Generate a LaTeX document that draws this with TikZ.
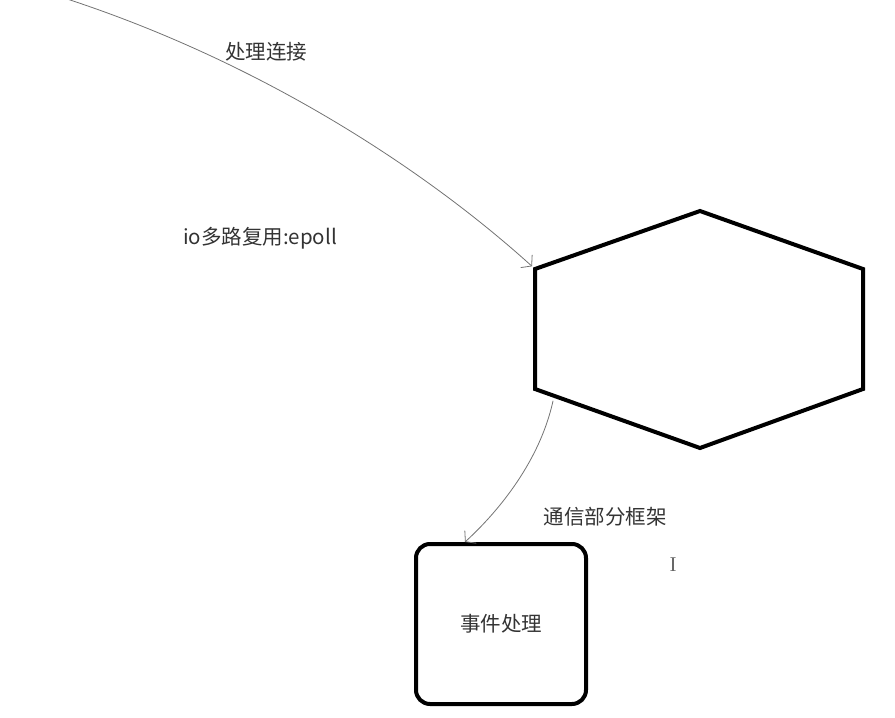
\documentclass[tikz,border=0pt]{standalone}
\usepackage{fontspec}
\setmainfont{Noto Sans CJK SC}
\newfontfamily\curfont{Liberation Serif}
\usepackage{tikz}
\usetikzlibrary{positioning}
\usetikzlibrary{calc}
\usetikzlibrary{arrows.meta}

\tikzset{
	lbl/.style={text=black!80, font=\fontsize{20.5}{24}\selectfont, inner sep=0pt},
	conn/.style={line width=0.8pt, draw=black!55, -{Straight Barb[length=7pt,width=17pt]}},
	thick line/.style={line width=4pt, line join=miter},
}

\begin{document}
\begin{tikzpicture}[line cap=round,line join=round,x=1.0pt,y=-1.0pt]
	\useasboundingbox (0,0) rectangle (895,718);
	\coordinate (hexNW) at (535,269);
	\coordinate (hexN) at (700,211);
	\coordinate (hexNE) at (863,269);
	\coordinate (hexSE) at (863,389);
	\coordinate (hexS) at (700,448);
	\coordinate (hexSW) at (535,389);
	\draw [thick line] (hexNW) -- (hexN) -- (hexNE) -- (hexSE) -- (hexS) -- (hexSW) -- cycle;
	\node [draw, line width=4pt, rounded corners=14pt, minimum width=170pt, minimum height=160pt, lbl] (evt) at (501,624) {\raisebox{-4pt}{事件处理}};
	\node [lbl] (conn) at (266,52) {处理连接};
	\node [lbl] (epoll) at (260,238) {io多路复用:epoll};
	\node [lbl] (frame) at (605,517) {通信部分框架};
	\node [text=black!60, font=\curfont\fontsize{21}{21}\selectfont, inner sep=0pt] (cursor) at (673,565) {I};
	\coordinate (src) at (64,-2);
	\coordinate (out2) at (553,401);
	\coordinate (in2) at ($(evt.north west)+(51,0)$);
	\draw [conn, shorten >=4pt] (src) .. controls (255,60) and (420,165) .. (hexNW);
	\draw [conn] (out2) .. controls (540,460) and (500,510) .. (in2);
\end{tikzpicture}
\end{document}
